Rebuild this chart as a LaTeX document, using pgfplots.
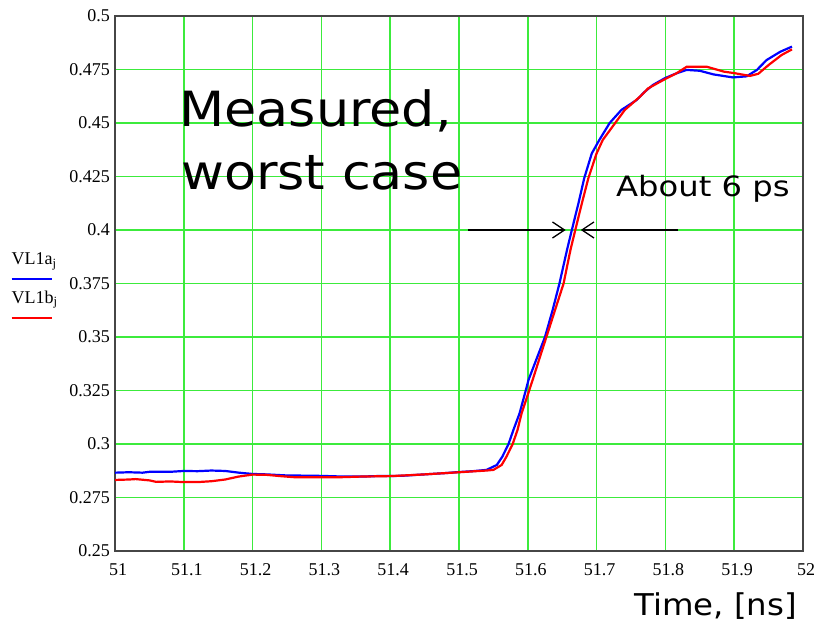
\documentclass[border=0pt]{standalone}
\usepackage{fontspec}
\setmainfont{Liberation Serif}
\newfontfamily\labelfont[FakeStretch=1.08]{DejaVu Sans}
\newfontfamily\notefont[FakeStretch=1.15]{DejaVu Sans}
\usepackage{pgfplots}
\pgfplotsset{compat=1.18}
\usetikzlibrary{arrows.meta}

\definecolor{gridgreen}{RGB}{60,235,60}
\definecolor{framegray}{RGB}{70,70,70}

\begin{document}
\begin{tikzpicture}
\useasboundingbox (0,0) rectangle (815bp,622bp);
\begin{axis}[
  at={(115bp,71bp)}, anchor=south west,
  width=688bp, height=535bp, scale only axis,
  xmin=51, xmax=52, ymin=0.25, ymax=0.5,
  xtick={51,51.1,51.2,51.3,51.4,51.5,51.6,51.7,51.8,51.9,52},
  xticklabels={51,51.1,51.2,51.3,51.4,51.5,51.6,51.7,51.8,51.9,52},
  ytick={0.25,0.275,0.3,0.325,0.35,0.375,0.4,0.425,0.45,0.475,0.5},
  yticklabels={0.25,0.275,0.3,0.325,0.35,0.375,0.4,0.425,0.45,0.475,0.5},
  major tick length=0pt,
  tick label style={font=\fontsize{18bp}{20bp}\selectfont, inner sep=0pt},
  xticklabel style={anchor=north, yshift=-12bp, xshift=3bp},
  yticklabel style={anchor=east, xshift=-5bp},
  grid=major,
  major grid style={draw=gridgreen, line width=1.5bp},
  axis line style={draw=framegray, line width=1.6bp},
  clip=true,
]
% VL1a_j
\addplot[blue, line width=2.2bp] coordinates {
(51.000,0.2866) (51.020,0.2868) (51.040,0.2866) (51.050,0.2870) (51.080,0.2870)
(51.100,0.2874) (51.120,0.2873) (51.140,0.2876) (51.160,0.2874) (51.180,0.2866)
(51.200,0.2860) (51.220,0.2858) (51.250,0.2853) (51.280,0.2852) (51.300,0.2851)
(51.330,0.2848) (51.360,0.2848) (51.380,0.2850) (51.400,0.2850) (51.420,0.2852)
(51.450,0.2858) (51.480,0.2864) (51.500,0.2869) (51.520,0.2873) (51.540,0.2879)
(51.555,0.2902) (51.563,0.2941) (51.572,0.3000) (51.579,0.3065) (51.588,0.3143)
(51.597,0.3250) (51.601,0.3299) (51.613,0.3400) (51.625,0.3500) (51.636,0.3625)
(51.646,0.3750) (51.657,0.3907) (51.664,0.4000) (51.674,0.4130) (51.682,0.4242)
(51.693,0.4358) (51.704,0.4421) (51.719,0.4500) (51.736,0.4561) (51.758,0.4607)
(51.770,0.4646) (51.782,0.4678) (51.799,0.4709) (51.816,0.4732) (51.831,0.4748)
(51.850,0.4744) (51.870,0.4727) (51.898,0.4713) (51.918,0.4718)
(51.933,0.4748) (51.947,0.4794) (51.967,0.4833) (51.984,0.4857)
};
% VL1b_j
\addplot[red, line width=2.2bp] coordinates {
(51.000,0.2832) (51.020,0.2834) (51.030,0.2836) (51.050,0.2830) (51.060,0.2823)
(51.080,0.2825) (51.100,0.2822) (51.120,0.2822) (51.140,0.2826) (51.160,0.2834)
(51.180,0.2848) (51.200,0.2857) (51.220,0.2856) (51.240,0.2850) (51.260,0.2845)
(51.280,0.2845) (51.300,0.2845) (51.330,0.2845) (51.360,0.2848) (51.400,0.2850)
(51.420,0.2853) (51.450,0.2858) (51.480,0.2864) (51.500,0.2868) (51.520,0.2872)
(51.540,0.2876) (51.550,0.2879) (51.562,0.2902) (51.569,0.2941) (51.578,0.3000)
(51.585,0.3065) (51.591,0.3143) (51.602,0.3250) (51.607,0.3299) (51.617,0.3400)
(51.627,0.3500) (51.640,0.3630) (51.652,0.3750) (51.662,0.3907) (51.669,0.4000)
(51.679,0.4130) (51.688,0.4242) (51.700,0.4358) (51.709,0.4421) (51.727,0.4500)
(51.741,0.4561) (51.763,0.4623) (51.775,0.4662) (51.797,0.4701) (51.816,0.4732)
(51.831,0.4763) (51.860,0.4763) (51.885,0.4740) (51.900,0.4733) (51.923,0.4720)
(51.935,0.4730) (51.950,0.4771) (51.969,0.4818) (51.984,0.4844)
};
% timing-difference arrows at the 0.4 crossing
\draw[black, line width=1.3bp, -{Straight Barb[length=12bp, width=16bp, line width=1.3bp]}]
  (axis cs:51.513,0.4) -- (axis cs:51.655,0.4);
\draw[black, line width=1.3bp, -{Straight Barb[length=12bp, width=16bp, line width=1.3bp]}]
  (axis cs:51.819,0.4) -- (axis cs:51.677,0.4);
\end{axis}

% annotations
\node[anchor=base west, inner sep=0pt, font=\labelfont\fontsize{48.5bp}{58bp}\selectfont]
  at (179bp,495bp) {Measured,};
\node[anchor=base west, inner sep=0pt, font=\labelfont\fontsize{48.5bp}{58bp}\selectfont]
  at (181bp,432bp) {worst case};
\node[anchor=base west, inner sep=0pt, font=\notefont\fontsize{28bp}{32bp}\selectfont]
  at (616bp,425bp) {About 6 ps};
\node[anchor=base west, inner sep=0pt, font=\labelfont\fontsize{30bp}{36bp}\selectfont]
  at (634bp,7bp) {Time,\ [ns]};

% series key
\node[anchor=base west, inner sep=0pt, font=\fontsize{18bp}{20bp}\selectfont]
  at (11.5bp,357bp) {VL1a\textsubscript{j}};
\draw[blue, line width=2.2bp] (11.5bp,342.7bp) -- (51.7bp,342.7bp);
\node[anchor=base west, inner sep=0pt, font=\fontsize{18bp}{20bp}\selectfont]
  at (11.5bp,318.7bp) {VL1b\textsubscript{j}};
\draw[red, line width=2.2bp] (11.5bp,303.7bp) -- (51.7bp,303.7bp);
\end{tikzpicture}
\end{document}
